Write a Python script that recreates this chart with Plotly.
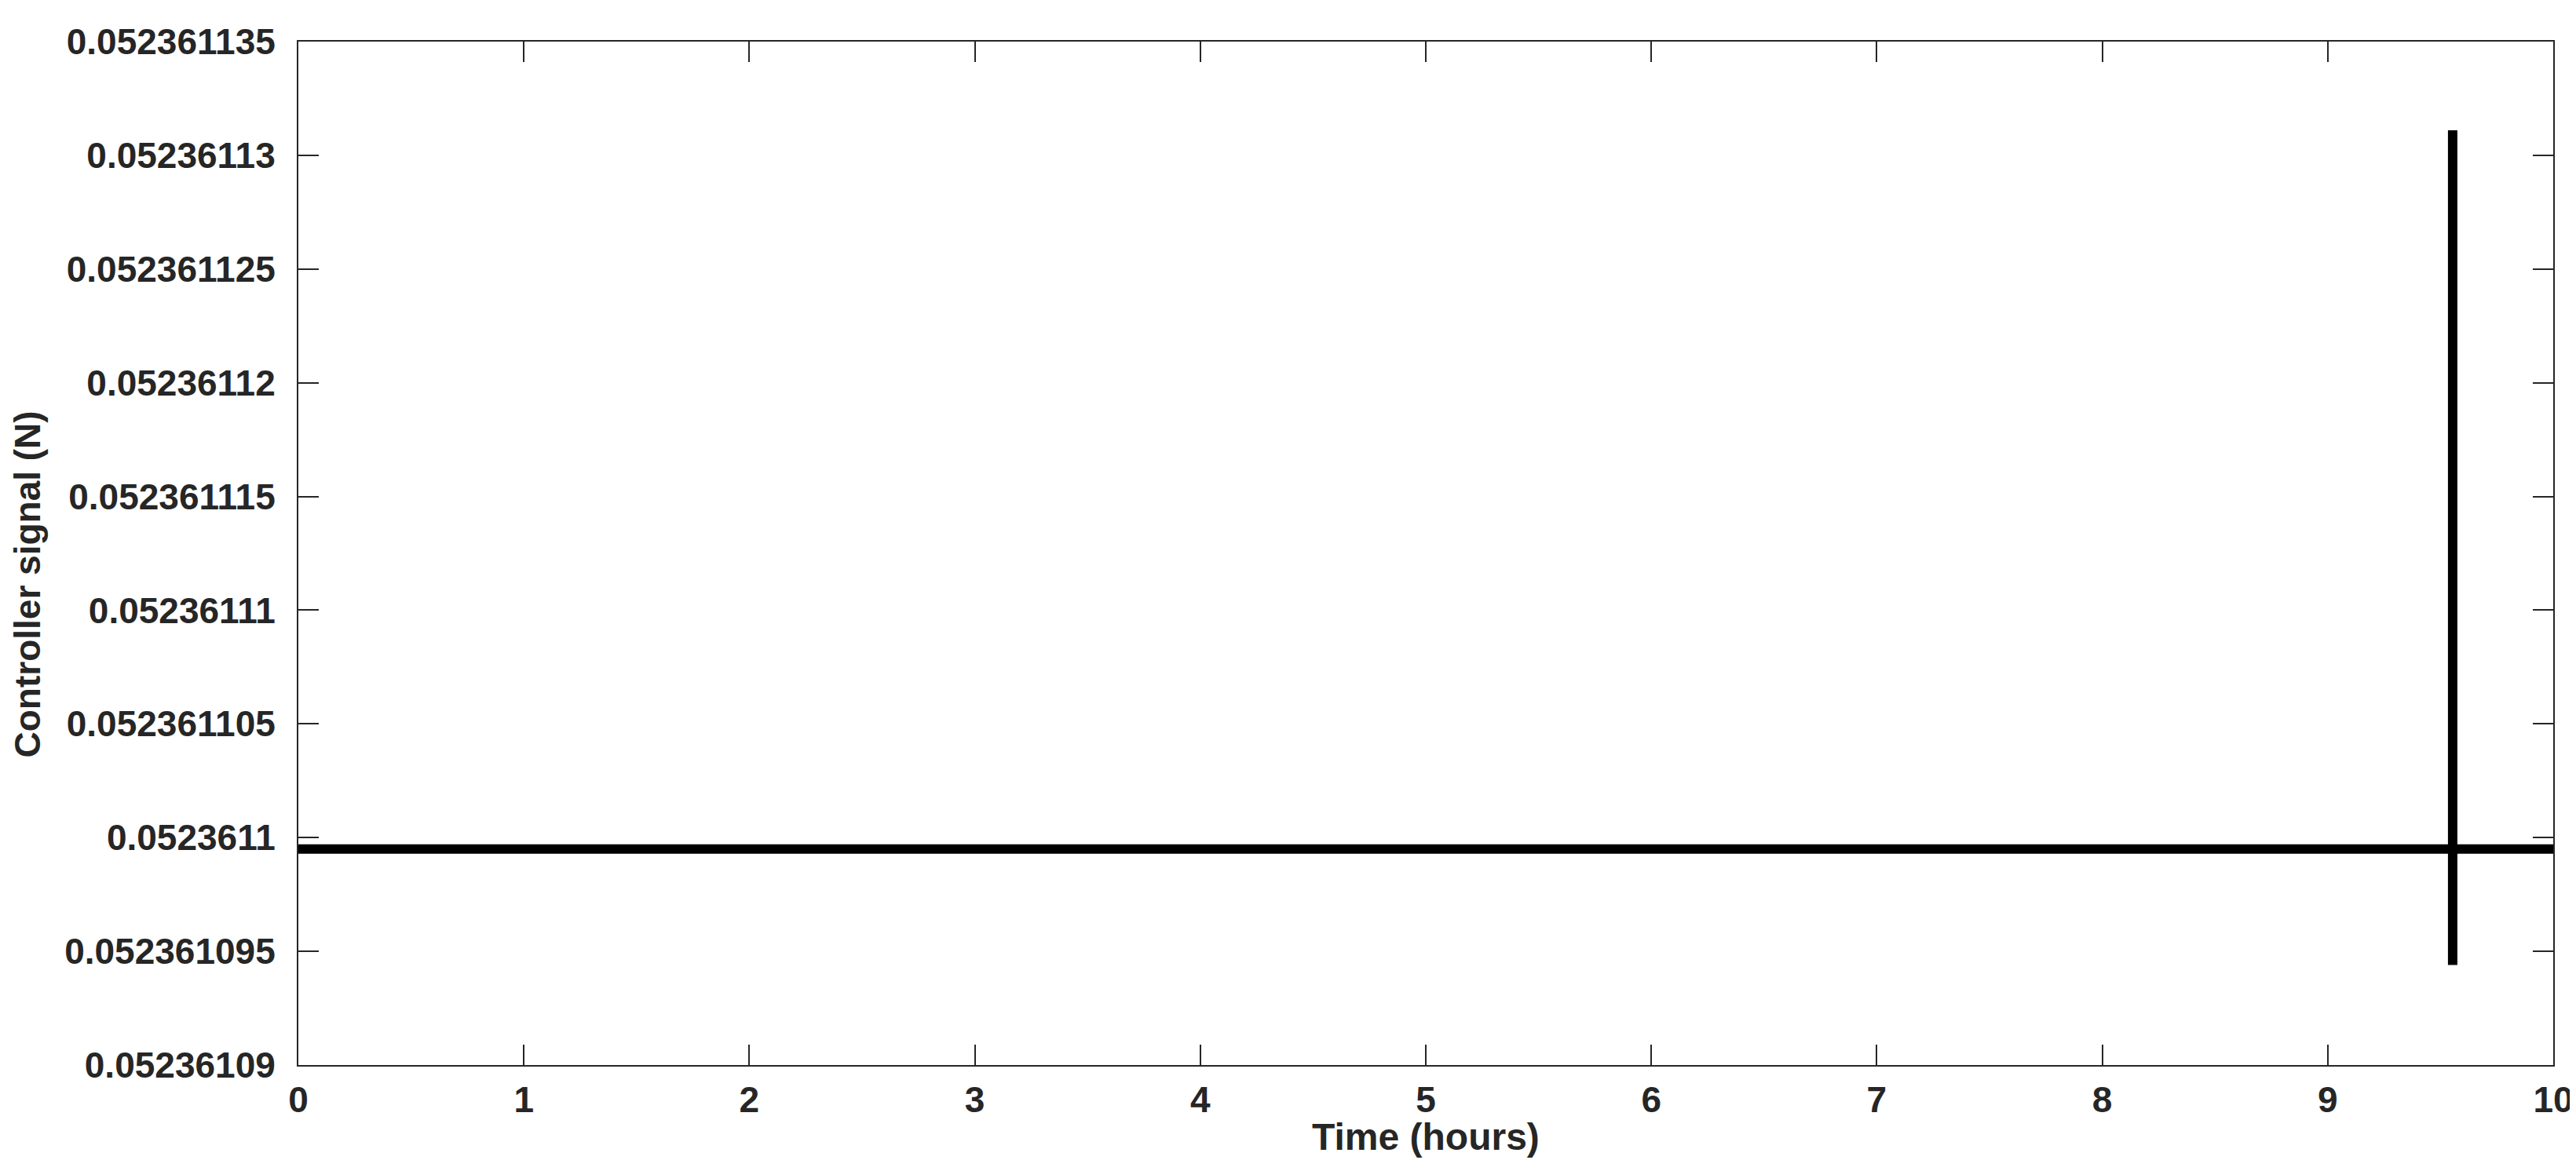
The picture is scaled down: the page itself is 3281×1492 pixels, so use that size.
import plotly.graph_objects as go

# controller output: flat level with one spike near 9.55 h
time_hours = [0.0, 9.554, 9.554, 9.554, 9.554, 10.0]
signal_N = [0.0523610995, 0.0523610995, 0.0523611311, 0.0523610944, 0.0523610995, 0.0523610995]

x_ticks = [0, 1, 2, 3, 4, 5, 6, 7, 8, 9, 10]
y_ticks = [0.05236109, 0.052361095, 0.0523611, 0.052361105, 0.05236111,
           0.052361115, 0.05236112, 0.052361125, 0.05236113, 0.052361135]
y_tick_text = ["0.05236109", "0.052361095", "0.0523611", "0.052361105", "0.05236111",
               "0.052361115", "0.05236112", "0.052361125", "0.05236113", "0.052361135"]

font_family = "Liberation Sans, Arial, sans-serif"
ink = "#262626"

fig = go.Figure()
fig.add_trace(go.Scatter(x=time_hours, y=signal_N, mode="lines",
                         line=dict(color="black", width=12), showlegend=False))

axis_common = dict(
    showgrid=False, zeroline=False, showline=True, linecolor=ink, linewidth=2,
    mirror="ticks", ticks="inside", ticklen=26, tickwidth=2, tickcolor=ink,
    tickfont=dict(family=font_family, size=46, color=ink, weight="bold"),
)

fig.update_xaxes(range=[0, 10], tickvals=x_ticks, ticklabelstandoff=3, **axis_common)
fig.update_yaxes(range=[y_ticks[0], y_ticks[-1]], tickvals=y_ticks, ticktext=y_tick_text,
                 ticklabelstandoff=18, **axis_common)

fig.add_annotation(text="Time (hours)", xref="paper", yref="paper", x=0.5, y=-0.07,
                   yanchor="middle", showarrow=False,
                   font=dict(family=font_family, size=48, color=ink, weight="bold"))
fig.add_annotation(text="Controller signal (N)", xref="paper", yref="paper", x=-0.12,
                   y=0.47, xanchor="center", yanchor="middle", textangle=-90, showarrow=False,
                   font=dict(family=font_family, size=46, color=ink, weight="bold"))

fig.update_layout(
    width=3281, height=1492,
    margin=dict(l=372, r=37, t=45, b=143),
    plot_bgcolor="white", paper_bgcolor="white",
)

fig.write_html("out.html")
